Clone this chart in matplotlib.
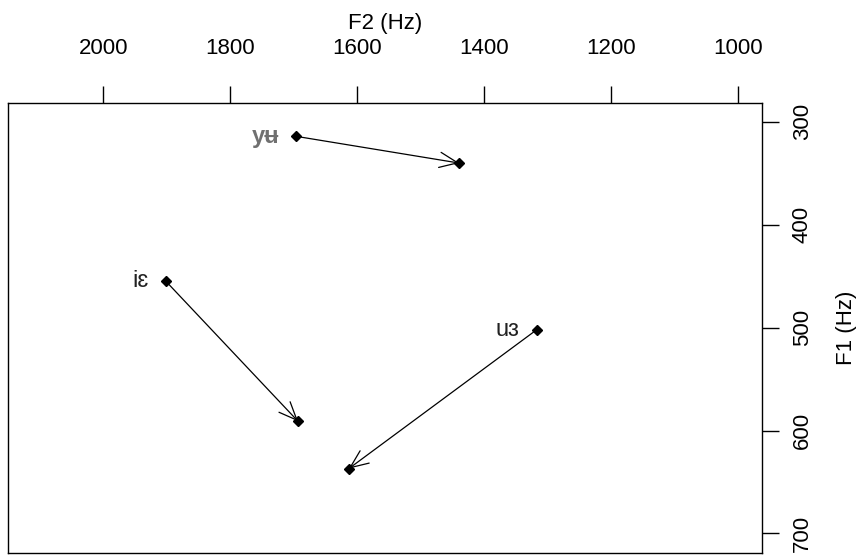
import matplotlib.pyplot as plt
import numpy as np

plt.rcParams['font.family'] = ['Liberation Sans', 'DejaVu Sans']

# diphthong onset / offset formants
labels = ['yʉ', 'iɛ', 'uɜ']
f2_start = [1696, 1901, 1317]
f1_start = [314, 455, 502]
f2_end = [1439, 1693, 1613]
f1_end = [340, 591, 637]
label_colors = ['#707070', '#222222', '#222222']

x_ticks = [2000, 1800, 1600, 1400, 1200, 1000]
y_ticks = [300, 400, 500, 600, 700]

fig = plt.figure(figsize=(8.61, 5.56), dpi=100)
ax = fig.add_axes([8 / 861, 3 / 556, 754 / 861, 450 / 556])

for i in range(len(labels)):
    ax.annotate('', xy=(f2_end[i], f1_end[i]), xytext=(f2_start[i], f1_start[i]),
                arrowprops=dict(arrowstyle='->,head_length=1.3,head_width=0.55',
                                color='black', linewidth=0.9,
                                shrinkA=0, shrinkB=0))
    ax.plot([f2_start[i], f2_end[i]], [f1_start[i], f1_end[i]],
            linestyle='none', marker='D', markersize=5.5, color='black')
    ax.text(f2_start[i] + 27, f1_start[i], labels[i], ha='right', va='center',
            fontsize=17, color=label_colors[i],
            fontweight='bold' if i == 0 else 'normal')

ax.set_xlim(2150, 962)
ax.set_ylim(719, 281.6)

ax.xaxis.tick_top()
ax.xaxis.set_label_position('top')
ax.yaxis.tick_right()
ax.yaxis.set_label_position('right')

ax.set_xticks(x_ticks)
ax.set_yticks(y_ticks)
ax.set_xticklabels([str(t) for t in x_ticks], fontsize=16)
ax.set_yticklabels([str(t) for t in y_ticks], fontsize=16, rotation=90, va='center')
ax.tick_params(axis='x', length=12.5, width=1, pad=19)
ax.tick_params(axis='y', length=12.5, width=1, pad=9)
ax.set_xlabel('F2 (Hz)', fontsize=16, labelpad=7)
ax.set_ylabel('F1 (Hz)', fontsize=16, labelpad=17)

for s in ax.spines.values():
    s.set_linewidth(1)

fig.savefig('out.png', dpi=100)
